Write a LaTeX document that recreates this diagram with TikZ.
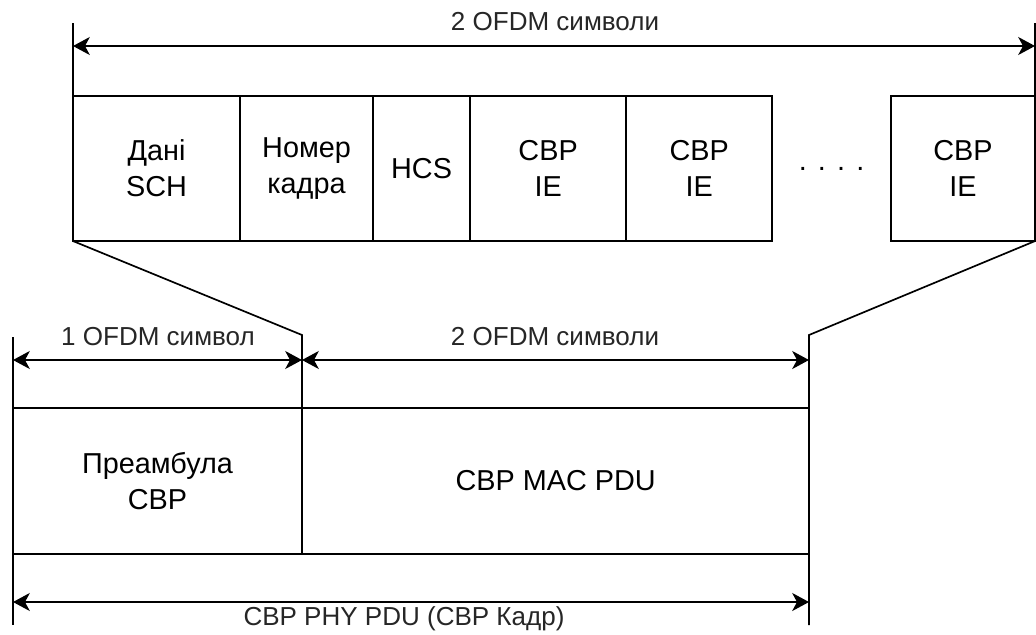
\documentclass[tikz,border=0pt]{standalone}
\usepackage{fontspec}
\setmainfont{Liberation Sans}
\usetikzlibrary{positioning, arrows.meta, calc}
\tikzset{
    pole/.style={rectangle, draw, line width=1.2pt, outer sep=0pt, inner sep=0pt, align=center, minimum height=3.625cm, font=\fontsize{20.5}{25.5}\selectfont},
    pole_niz/.style={pole, minimum height=3.65cm},
    mitka/.style={font=\fontsize{18.5}{22}\selectfont, text=black!85},
    rozmir/.style={{Stealth[length=0.42cm,width=0.45cm,inset=0.12cm]}-{Stealth[length=0.42cm,width=0.45cm,inset=0.12cm]}, line width=1.2pt},
    linia/.style={line width=1.2pt}
}
\begin{document}
\begin{tikzpicture}[x=0.025cm, y=-0.025cm, node distance=0pt]

    \useasboundingbox (0,0) rectangle (1036,634);

    % 1. Верхній ряд полів
    \node[pole, minimum width=4.175cm, anchor=north west] (sch) at (73,96) {Дані\\SCH};
    \node[pole, minimum width=3.325cm, right=of sch] (kadr) {Номер\\кадра};
    \node[pole, minimum width=2.425cm, right=of kadr] (hcs) {HCS};
    \node[pole, minimum width=3.9cm, right=of hcs] (ie1) {CBP\\IE};
    \node[pole, minimum width=3.65cm, right=of ie1] (ie2) {CBP\\IE};
    \node[pole, minimum width=3.6cm, anchor=north east] (ie3) at (1035,96) {CBP\\IE};
    \node[font=\fontsize{20.5}{25.5}\selectfont, anchor=base] (krapky) at ($(ie2.east)!0.5!(ie3.west) + (0,2)$) {.\kern0.28cm.\kern0.28cm.\kern0.28cm.};

    % 2. Нижній ряд полів
    \node[pole_niz, minimum width=7.225cm, anchor=north west] (pre) at (13,408) {Преамбула\\CBP};
    \node[pole_niz, minimum width=12.675cm, right=of pre] (mac) {CBP MAC PDU};

    % --- РОЗМІРИ ---
    \coordinate (v_tl) at (73,23);
    \coordinate (v_tr) at (1035,23);
    \coordinate (s_tl) at (73,46);
    \coordinate (s_tr) at (1035,46);
    \draw[linia] (v_tl) -- (sch.north west);
    \draw[linia] (v_tr) -- (ie3.north east);
    \draw[rozmir] (s_tl) -- (s_tr);
    \node[mitka] (m_top) at (555,22) {2 OFDM символи};

    % Перехід від верхнього ряду до нижнього
    \coordinate (v_bl) at (13,337);
    \coordinate (v_blb) at (13,625);
    \coordinate (v_bm) at (302,335);
    \coordinate (v_br) at (809,335);
    \coordinate (v_brb) at (809,625);
    \draw[linia] (sch.south west) -- (v_bm) -- (pre.north east);
    \draw[linia] (ie3.south east) -- (v_br) -- (v_brb);
    \draw[linia] (v_bl) -- (v_blb);

    \coordinate (s_l) at (13,360);
    \coordinate (s_m) at (302,360);
    \coordinate (s_r) at (809,360);
    \draw[rozmir] (s_l) -- (s_m);
    \draw[rozmir] (s_m) -- (s_r);
    \node[mitka] (m_1) at (158,337) {1 OFDM символ};
    \node[mitka] (m_2) at (555,337) {2 OFDM символи};

    \coordinate (s_bl) at (13,602);
    \coordinate (s_br) at (809,602);
    \draw[rozmir] (s_bl) -- (s_br);
    \node[mitka] (m_bot) at (404,619) {CBP PHY PDU (CBP Кадр)};

\end{tikzpicture}
\end{document}
